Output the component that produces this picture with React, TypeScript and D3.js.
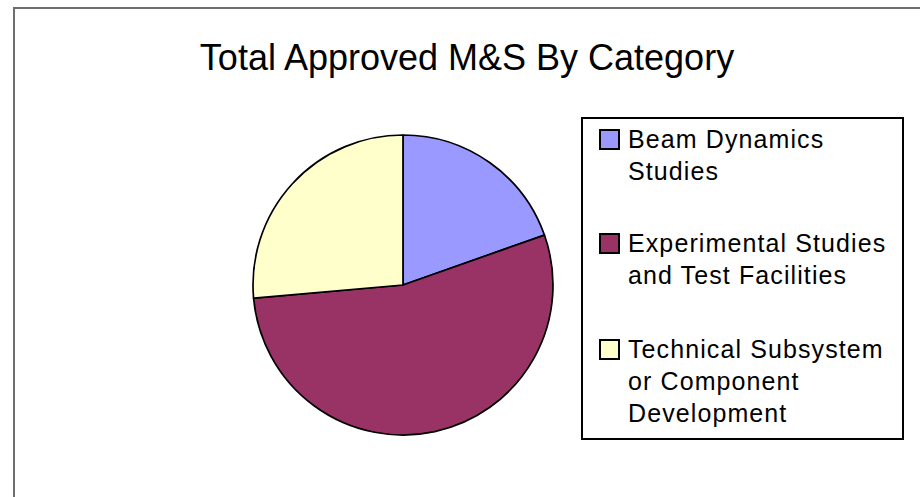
import React, { useEffect, useRef } from 'react';
import * as d3 from 'd3';

const categories = [
  ['Beam Dynamics', 'Studies'],
  ['Experimental Studies', 'and Test Facilities'],
  ['Technical Subsystem', 'or Component', 'Development'],
];
const values = [19.6, 54.0, 26.4];
const colors = ['#9999ff', '#993366', '#ffffcc'];

const App: React.FC = () => {
  const svgRef = useRef<SVGSVGElement>(null);

  useEffect(() => {
    if (!svgRef.current) return;
    const svg = d3.select(svgRef.current);
    svg.selectAll('*').remove();

    const width = 920;
    const height = 497;

    svg.append('rect').attr('width', width).attr('height', height).attr('fill', '#fff');

    // outer chart frame (runs off the right and bottom edges)
    svg.append('rect')
      .attr('x', 14).attr('y', 8)
      .attr('width', 940).attr('height', 520)
      .attr('fill', 'none')
      .attr('stroke', '#6e6e6e')
      .attr('stroke-width', 2);

    svg.append('text')
      .attr('x', 467).attr('y', 70)
      .attr('text-anchor', 'middle')
      .attr('font-family', 'Liberation Sans, Arial, sans-serif')
      .attr('font-size', 36)
      .attr('fill', '#000')
      .text('Total Approved M&S By Category');

    const cx = 403, cy = 285, r = 150;
    const pie = d3.pie<number>().sort(null).value(d => d);
    const arc = d3.arc<d3.PieArcDatum<number>>().innerRadius(0).outerRadius(r);

    svg.append('g')
      .attr('transform', `translate(${cx},${cy})`)
      .selectAll('path')
      .data(pie(values))
      .join('path')
      .attr('d', arc)
      .attr('fill', (_, i) => colors[i])
      .attr('stroke', '#000')
      .attr('stroke-width', 1.7)
      .attr('stroke-linejoin', 'round');

    // legend
    svg.append('rect')
      .attr('x', 582).attr('y', 118)
      .attr('width', 321).attr('height', 321)
      .attr('fill', '#fff')
      .attr('stroke', '#000')
      .attr('stroke-width', 2);

    const firstBaselines = [148, 252, 358];
    const lineH = 32;
    const legend = svg.append('g');
    categories.forEach((lines, i) => {
      const by = firstBaselines[i];
      legend.append('rect')
        .attr('x', 600).attr('y', by - 18)
        .attr('width', 19).attr('height', 19)
        .attr('fill', colors[i])
        .attr('stroke', '#000')
        .attr('stroke-width', 2);
      lines.forEach((t, j) => {
        legend.append('text')
          .attr('x', 628).attr('y', by + j * lineH)
          .attr('font-family', 'Liberation Sans, Arial, sans-serif')
          .attr('font-size', 25)
          .attr('letter-spacing', 1.1)
          .attr('fill', '#000')
          .text(t);
      });
    });
  }, []);

  return (
    <div style={{ position: 'absolute', left: 0, top: 0, width: 920, height: 497 }}>
      <svg ref={svgRef} width={920} height={497} style={{ display: 'block' }} />
    </div>
  );
};

export default App;
